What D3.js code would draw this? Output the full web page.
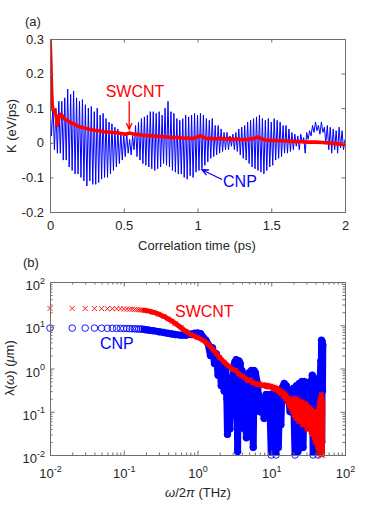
<!DOCTYPE html>
<html>
<head>
<meta charset="utf-8">
<script src="https://cdn.jsdelivr.net/npm/d3@7"></script>
<style>
body { margin: 0; background: #fff; }
svg { display: block; font-family: "Liberation Sans", Arial, sans-serif; }
</style>
</head>
<body>
<svg id="fig" width="382" height="512"></svg>
<script>
// ---------- panel (a): heat current autocorrelation ----------
var tTicks = [0, 0.5, 1, 1.5, 2];
var tTickLabels = ["0", "0.5", "1", "1.5", "2"];
var kTicks = [-0.2, -0.1, 0, 0.1, 0.2, 0.3];
var kTickLabels = ["-0.2", "-0.1", "0", "0.1", "0.2", "0.3"];

// CNP, sampled every 0.01 ps (peaks and troughs of the fast oscillation)
var cnpStep = 0.01;
var cnpK = [
  0.10, 0.02, 0.11, -0.02, 0.10, -0.03, 0.12, -0.03, 0.12, -0.05,
  0.13, -0.05, 0.155, -0.07, 0.14, -0.08, 0.15, -0.09, 0.13, -0.09,
  0.12, -0.10, 0.125, -0.11, 0.11, -0.125, 0.10, -0.11, 0.105, -0.12,
  0.09, -0.12, 0.10, -0.115, 0.08, -0.105, 0.085, -0.10, 0.07, -0.10,
  0.06, -0.09, 0.055, -0.08, 0.045, -0.07, 0.04, -0.06, 0.03, -0.05,
  0.025, -0.04, 0.03, -0.03, 0.01, -0.035, 0.02, -0.02, 0.05, -0.04,
  0.06, -0.05, 0.07, -0.06, 0.075, -0.065, 0.08, -0.07, 0.09, -0.075,
  0.09, -0.08, 0.085, -0.075, 0.09, -0.07, 0.08, -0.06, 0.10, -0.065,
  0.12, -0.07, 0.09, -0.08, 0.085, -0.085, 0.07, -0.09, 0.065, -0.09,
  0.07, -0.10, 0.08, -0.105, 0.075, -0.095, 0.08, -0.10, 0.085, -0.085,
  0.08, -0.08, 0.085, -0.075, 0.08, -0.065, 0.07, -0.055, 0.065, -0.045,
  0.07, -0.04, 0.05, -0.035, 0.05, -0.03, 0.04, -0.025, 0.03, -0.02,
  0.03, -0.02, 0.02, -0.01, 0.025, -0.02, 0.03, -0.025, 0.04, -0.035,
  0.045, -0.045, 0.05, -0.05, 0.06, -0.06, 0.065, -0.07, 0.07, -0.075,
  0.075, -0.08, 0.08, -0.085, 0.07, -0.09, 0.065, -0.08, 0.07, -0.07,
  0.06, -0.065, 0.07, -0.05, 0.065, -0.045, 0.06, -0.04, 0.05, -0.03,
  0.05, -0.03, 0.04, -0.025, 0.03, -0.02, 0.025, -0.01, 0.02, -0.02,
  0.025, 0.00, 0.015, -0.03, 0.03, 0.01, 0.035, 0.02, 0.05, 0.03,
  0.06, 0.035, 0.05, 0.025, 0.06, 0.03, 0.045, 0.00, 0.05, -0.02,
  0.045, -0.03, 0.04, -0.02, 0.035, -0.03, 0.045, -0.015, 0.035, -0.02,
  0.01
];

// SWCNT
var swT = [
  0, 0.005, 0.01, 0.015, 0.02,
  0.03, 0.04, 0.05, 0.06, 0.07, 0.08, 0.09, 0.10,
  0.12, 0.14, 0.16, 0.18, 0.20, 0.22, 0.24, 0.26, 0.28, 0.30,
  0.33, 0.36, 0.39, 0.42, 0.45, 0.48, 0.51, 0.54, 0.57, 0.60, 0.63, 0.66,
  0.69, 0.72, 0.75, 0.78, 0.81, 0.84, 0.87, 0.90, 0.93, 0.96, 0.99,
  1.02, 1.04, 1.06,
  1.09, 1.12, 1.15, 1.18, 1.21, 1.24, 1.27, 1.30,
  1.34, 1.38, 1.41, 1.43, 1.46, 1.50,
  1.55, 1.60, 1.65, 1.70, 1.75, 1.80, 1.85, 1.90, 1.95, 2.00
];
var swK = [
  0.30, 0.24, 0.16, 0.11, 0.095,
  0.095, 0.08, 0.05, 0.072, 0.082, 0.08, 0.074, 0.068,
  0.064, 0.058, 0.055, 0.05, 0.046, 0.044, 0.042, 0.04, 0.038, 0.036,
  0.035, 0.032, 0.031, 0.03, 0.029, 0.027, 0.025, 0.028, 0.025, 0.024, 0.022, 0.021,
  0.02, 0.019, 0.018, 0.017, 0.016, 0.015, 0.016, 0.013, 0.014, 0.012, 0.015,
  0.021, 0.016, 0.012,
  0.013, 0.011, 0.013, 0.011, 0.012, 0.010, 0.011, 0.009,
  0.010, 0.012, 0.017, 0.012, 0.008, 0.007,
  0.006, 0.005, 0.004, 0.003, 0.002, 0.002, 0.001, -0.001, -0.003, -0.005
];

// ---------- panel (b): spectral phonon MFP ----------
var decadeTicks = [0.01, 0.1, 1, 10, 100];
var decadeExp = ["-2", "-1", "0", "1", "2"];

var cnpF = [
  0.01, 0.02, 0.03, 0.04, 0.05, 0.06, 0.07, 0.08, 0.09, 0.10,
  0.11, 0.12, 0.13, 0.14, 0.15, 0.16, 0.17, 0.18, 0.19, 0.20,
  0.22, 0.25, 0.30, 0.35, 0.40, 0.45, 0.50, 0.60, 0.70, 0.80,
  0.90, 1.0, 1.1, 1.2, 1.3, 1.4, 1.5, 1.6, 1.7, 1.8,
  1.9, 2.0, 2.1, 2.2, 2.3, 2.4, 2.5, 2.55, 2.65, 2.75,
  2.85, 2.95, 3.05, 3.2, 3.35, 3.45, 3.5, 3.55, 3.65, 3.8,
  3.95, 4.0, 4.1, 4.3, 4.5, 4.6, 4.8, 5.0, 5.15, 5.25,
  5.4, 5.6, 5.7, 5.85, 6.1, 6.4, 6.7, 7.0, 7.5, 8.0,
  8.5, 9.0, 9.5, 10, 10.4, 10.8, 11.2, 11.6, 12, 12.5,
  13, 13.5, 14, 15, 16, 17, 18, 19, 20, 21,
  22, 23, 24, 25, 26, 27, 28, 29, 30, 32,
  34, 35, 36, 37, 38, 39, 40, 41, 42, 43,
  44, 45, 46, 47, 47.5, 48, 48.5, 49, 49.5, 50
];
var cnpL = [
  8.6, 8.6, 8.6, 8.6, 8.55, 8.5, 8.5, 8.5, 8.45, 8.4,
  8.4, 8.35, 8.3, 8.3, 8.2, 8.2, 8.15, 8.1, 8.0, 7.9,
  7.7, 7.5, 7.1, 6.8, 6.5, 6.3, 6.1, 5.9, 5.9, 6.2,
  6.5, 6.6, 6.4, 5.2, 4.5, 3.6, 2.0, 3.0, 1.3, 2.2,
  0.7, 1.6, 0.4, 1.2, 0.3, 0.9, 0.2, 0.03, 0.6, 0.04,
  0.5, 0.08, 1.0, 1.4, 1.6, 0.3, 0.012, 0.3, 1.5, 1.3,
  0.2, 0.9, 0.5, 0.04, 0.5, 0.025, 0.6, 0.8, 0.2, 0.03,
  0.9, 0.15, 0.015, 0.9, 0.8, 0.5, 0.25, 0.1, 0.2, 0.07,
  0.25, 0.12, 0.25, 0.01, 0.25, 0.012, 0.3, 0.01, 0.25, 0.015,
  0.3, 0.05, 0.35, 0.45, 0.4, 0.25, 0.1, 0.2, 0.35, 0.01,
  0.4, 0.012, 0.45, 0.1, 0.5, 0.015, 0.5, 0.05, 0.45, 0.3,
  0.5, 0.05, 0.7, 0.01, 0.6, 0.012, 0.5, 0.02, 0.3, 0.01,
  0.15, 0.02, 0.5, 1.5, 0.015, 4.5, 0.02, 4.2, 0.3, 3.5
];

var swF = [
  0.01, 0.02, 0.03, 0.04, 0.05, 0.06, 0.07, 0.08, 0.09, 0.10,
  0.11, 0.12, 0.13, 0.14, 0.15, 0.16, 0.17, 0.18, 0.19, 0.20,
  0.22, 0.25, 0.30, 0.35, 0.40, 0.45, 0.50, 0.60, 0.70, 0.80,
  0.90, 1.0, 1.2, 1.4, 1.6, 1.8, 2.0, 2.3, 2.6, 3.0,
  3.3, 3.6, 4.0, 4.4, 4.8, 5.2, 5.6, 6.0, 6.5, 7.0,
  7.5, 8.0, 8.5, 9.0, 9.5, 10, 10.5, 11, 11.5, 12,
  12.5, 13, 13.5, 14, 14.5, 15, 15.5, 16, 16.5, 17,
  17.5, 18, 18.5, 19, 19.5, 20, 20.5, 21, 21.5, 22,
  22.5, 23, 23.5, 24, 24.5, 25, 25.5, 26, 26.5, 27,
  27.5, 28, 28.5, 29, 29.5, 30, 30.5, 31, 31.5, 32,
  32.5, 33, 33.5, 34, 34.5, 35, 35.5, 36, 36.5, 37,
  37.5, 38, 38.5, 39, 39.5, 40, 40.5, 41, 41.5, 42,
  42.5, 43, 43.5, 44, 44.5, 45, 45.5, 46, 46.5, 47,
  47.5, 48, 48.5, 49, 49.5, 50
];
var swL = [
  24.5, 24.5, 24.4, 24.4, 24.3, 24.2, 24.2, 24.1, 24.0, 23.8,
  23.7, 23.5, 23.4, 23.2, 23.0, 22.8, 22.6, 22.4, 22.1, 21.8,
  21.2, 20.0, 18.0, 16.0, 14.0, 12.5, 11.0, 8.8, 7.2, 6.2,
  5.6, 5.2, 4.5, 3.6, 2.8, 2.2, 1.8, 1.4, 1.15, 0.95,
  0.9, 0.75, 0.68, 0.6, 0.52, 0.55, 0.47, 0.46, 0.42, 0.44,
  0.40, 0.42, 0.38, 0.41, 0.37, 0.39, 0.34, 0.37, 0.32, 0.35,
  0.29, 0.32, 0.26, 0.29, 0.23, 0.27, 0.20, 0.24, 0.17, 0.21,
  0.14, 0.20, 0.12, 0.19, 0.10, 0.20, 0.08, 0.18, 0.07, 0.20,
  0.08, 0.16, 0.06, 0.18, 0.07, 0.15, 0.06, 0.17, 0.05, 0.14,
  0.06, 0.16, 0.05, 0.13, 0.05, 0.15, 0.04, 0.12, 0.05, 0.13,
  0.04, 0.11, 0.04, 0.12, 0.035, 0.10, 0.03, 0.11, 0.03, 0.09,
  0.03, 0.10, 0.025, 0.08, 0.02, 0.10, 0.02, 0.09, 0.018, 0.08,
  0.015, 0.10, 0.015, 0.12, 0.012, 0.15, 0.012, 0.20, 0.010, 0.22,
  0.010, 0.25, 0.010, 0.20, 0.010, 0.15
];

var blue = "#0000ff", red = "#ff0000", ink = "#262626", frameColor = "#6e6e6e";
var svg = d3.select("#fig");

// style an axis group MATLAB-like
function styleAxis(g) {
  g.attr("font-family", null).attr("font-size", 13);
  g.selectAll(".domain").remove();
  g.selectAll(".tick line").attr("stroke", frameColor);
  g.selectAll(".tick text").attr("fill", ink);
}

function box(x, y) {
  var x0 = x.range()[0], x1 = x.range()[1], y0 = y.range()[1], y1 = y.range()[0];
  svg.append("rect")
    .attr("x", x0 + 0.5).attr("y", y0 + 0.5)
    .attr("width", x1 - x0).attr("height", y1 - y0)
    .attr("fill", "none").attr("stroke", frameColor).attr("stroke-width", 1);
}

function clip(id, x, y) {
  var x0 = x.range()[0], x1 = x.range()[1], y0 = y.range()[1], y1 = y.range()[0];
  svg.append("clipPath").attr("id", id).append("rect")
    .attr("x", x0).attr("y", y0).attr("width", x1 - x0 + 1).attr("height", y1 - y0 + 1);
}

function arrow(x1, y1, x2, y2, color) {
  var a = Math.atan2(y2 - y1, x2 - x1), L = 7, w = 0.42;
  svg.append("path")
    .attr("d", "M" + x1 + "," + y1 + "L" + x2 + "," + y2 +
      "M" + (x2 - L * Math.cos(a - w)) + "," + (y2 - L * Math.sin(a - w)) +
      "L" + x2 + "," + y2 +
      "L" + (x2 - L * Math.cos(a + w)) + "," + (y2 - L * Math.sin(a + w)))
    .attr("fill", "none").attr("stroke", color).attr("stroke-width", 1.3);
}

// ================= panel (a) =================
var xa = d3.scaleLinear().domain([0, 2]).range([50, 345]);
var ya = d3.scaleLinear().domain([-0.2, 0.3]).range([212, 39]);
clip("clipA", xa, ya);

var cnpPts = cnpK.map(function(k, i) { return [i * cnpStep, k]; });
var lineA = d3.line().x(function(d) { return xa(d[0]); }).y(function(d) { return ya(d[1]); });

svg.append("path").datum(cnpPts)
  .attr("clip-path", "url(#clipA)")
  .attr("d", lineA).attr("fill", "none")
  .attr("stroke", blue).attr("stroke-width", 1).attr("stroke-linejoin", "round");

svg.append("path").datum(swT.map(function(t, i) { return [t, swK[i]]; }))
  .attr("clip-path", "url(#clipA)")
  .attr("d", lineA).attr("fill", "none")
  .attr("stroke", red).attr("stroke-width", 3.6).attr("stroke-linejoin", "round");

box(xa, ya);
svg.append("g").attr("transform", "translate(0," + ya.range()[0] + ")")
  .call(d3.axisBottom(xa).tickValues(tTicks).tickFormat(function(d, i) { return tTickLabels[i]; })
    .tickSizeInner(-3.5).tickSizeOuter(0).tickPadding(9))
  .call(styleAxis);
svg.append("g").attr("transform", "translate(0," + ya.range()[1] + ")")
  .call(d3.axisTop(xa).tickValues(tTicks).tickFormat("").tickSizeInner(-3.5).tickSizeOuter(0))
  .call(styleAxis);
svg.append("g").attr("transform", "translate(" + xa.range()[0] + ",0)")
  .call(d3.axisLeft(ya).tickValues(kTicks).tickFormat(function(d, i) { return kTickLabels[i]; })
    .tickSizeInner(-3.5).tickSizeOuter(0).tickPadding(6))
  .call(styleAxis);
svg.append("g").attr("transform", "translate(" + xa.range()[1] + ",0)")
  .call(d3.axisRight(ya).tickValues(kTicks).tickFormat("").tickSizeInner(-3.5).tickSizeOuter(0))
  .call(styleAxis);

svg.append("text").attr("x", 197).attr("y", 250).attr("text-anchor", "middle")
  .attr("font-size", 13).attr("fill", ink).text("Correlation time (ps)");
svg.append("text").attr("transform", "translate(16,126) rotate(-90)").attr("text-anchor", "middle")
  .attr("font-size", 13).attr("fill", ink).text("K (eV/ps)");
svg.append("text").attr("x", 25).attr("y", 26).attr("font-size", 13).attr("fill", ink).text("(a)");

// annotations
svg.append("text").attr("x", xa(0.576)).attr("y", ya(0.131)).attr("text-anchor", "middle")
  .attr("font-size", 16).attr("fill", red).text("SWCNT");
arrow(xa(0.537), ya(0.12), xa(0.537), ya(0.039), red);
svg.append("text").attr("x", xa(1.173)).attr("y", ya(-0.129))
  .attr("font-size", 16).attr("fill", blue).text("CNP");
arrow(xa(1.166), ya(-0.106), xa(1.03), ya(-0.078), blue);

// ================= panel (b) =================
var xb = d3.scaleLog().domain([0.01, 100]).range([50, 345]);
var yb = d3.scaleLog().domain([0.01, 100]).range([455, 282]);
clip("clipB", xb, yb);

var minors = [];
[0.01, 0.1, 1, 10].forEach(function(p) {
  for (var m = 2; m <= 9; m++) minors.push(p * m);
});

var lineB = d3.line().x(function(d) { return xb(d[0]); }).y(function(d) { return yb(d[1]); });
var bandFrom = 0.19;

// CNP: dense circles merge into a band
var cnpPts2 = cnpF.map(function(f, i) { return [f, cnpL[i]]; });
svg.append("path").datum(cnpPts2.filter(function(d) { return d[0] >= bandFrom; }))
  .attr("clip-path", "url(#clipB)")
  .attr("d", lineB).attr("fill", "none")
  .attr("stroke", blue).attr("stroke-width", 7)
  .attr("stroke-linejoin", "round").attr("stroke-linecap", "round");
svg.append("g").selectAll("circle").data(cnpPts2).enter().append("circle")
  .attr("cx", function(d) { return xb(d[0]); })
  .attr("cy", function(d) { return yb(d[1]); })
  .attr("r", 3.3).attr("fill", "none").attr("stroke", blue).attr("stroke-width", 0.9);

// SWCNT: crosses
var swPts2 = swF.map(function(f, i) { return [f, swL[i]]; });
svg.append("path").datum(swPts2.filter(function(d) { return d[0] >= bandFrom; }))
  .attr("clip-path", "url(#clipB)")
  .attr("d", lineB).attr("fill", "none")
  .attr("stroke", red).attr("stroke-width", 5)
  .attr("stroke-linejoin", "round").attr("stroke-linecap", "round");
svg.append("g").selectAll("path").data(swPts2).enter().append("path")
  .attr("transform", function(d) { return "translate(" + xb(d[0]) + "," + yb(d[1]) + ")"; })
  .attr("d", "M-2.5,-2.5L2.5,2.5M-2.5,2.5L2.5,-2.5")
  .attr("stroke", red).attr("stroke-width", 0.9);

box(xb, yb);
function logAxis(axisFn, scale, size, tr, values) {
  svg.append("g").attr("transform", tr)
    .call(axisFn(scale).tickValues(values).tickFormat("").tickSizeInner(size).tickSizeOuter(0))
    .call(styleAxis);
}
var bx0 = xb.range()[0], bx1 = xb.range()[1], by0 = yb.range()[1], by1 = yb.range()[0];
logAxis(d3.axisBottom, xb, -4.5, "translate(0," + by1 + ")", decadeTicks);
logAxis(d3.axisBottom, xb, -2.5, "translate(0," + by1 + ")", minors);
logAxis(d3.axisTop, xb, -4.5, "translate(0," + by0 + ")", decadeTicks);
logAxis(d3.axisTop, xb, -2.5, "translate(0," + by0 + ")", minors);
logAxis(d3.axisLeft, yb, -4.5, "translate(" + bx0 + ",0)", decadeTicks);
logAxis(d3.axisLeft, yb, -2.5, "translate(" + bx0 + ",0)", minors);
logAxis(d3.axisRight, yb, -4.5, "translate(" + bx1 + ",0)", decadeTicks);
logAxis(d3.axisRight, yb, -2.5, "translate(" + bx1 + ",0)", minors);

function powLabel(t, exp) {
  t.append("tspan").text("10");
  t.append("tspan").attr("dy", -6.5).attr("font-size", 9).text(exp);
}
decadeTicks.forEach(function(v, i) {
  var t = svg.append("text").attr("x", xb(v) + 0.5).attr("y", by1 + 23)
    .attr("text-anchor", "middle").attr("font-size", 13).attr("fill", ink);
  powLabel(t, decadeExp[i]);
  var u = svg.append("text").attr("x", bx0 - 5).attr("y", yb(v) + 8)
    .attr("text-anchor", "end").attr("font-size", 13).attr("fill", ink);
  powLabel(u, decadeExp[i]);
});

var xl = svg.append("text").attr("x", 198).attr("y", 497).attr("text-anchor", "middle")
  .attr("font-size", 13).attr("fill", ink);
xl.append("tspan").attr("font-style", "italic").text("ω");
xl.append("tspan").text("/2");
xl.append("tspan").attr("font-style", "italic").text("π");
xl.append("tspan").text(" (THz)");

var yl = svg.append("text").attr("transform", "translate(14,368) rotate(-90)")
  .attr("text-anchor", "middle").attr("font-size", 13).attr("fill", ink);
yl.append("tspan").text("λ(");
yl.append("tspan").attr("font-style", "italic").text("ω");
yl.append("tspan").text(") (");
yl.append("tspan").attr("font-style", "italic").text("μ");
yl.append("tspan").text("m)");

svg.append("text").attr("x", 23).attr("y", 267).attr("font-size", 13).attr("fill", ink).text("(b)");

svg.append("text").attr("x", xb(0.495)).attr("y", yb(15.5))
  .attr("font-size", 16).attr("fill", red).text("SWCNT");
svg.append("text").attr("x", xb(0.0476)).attr("y", yb(2.8))
  .attr("font-size", 16).attr("fill", blue).text("CNP");
</script>
</body>
</html>
